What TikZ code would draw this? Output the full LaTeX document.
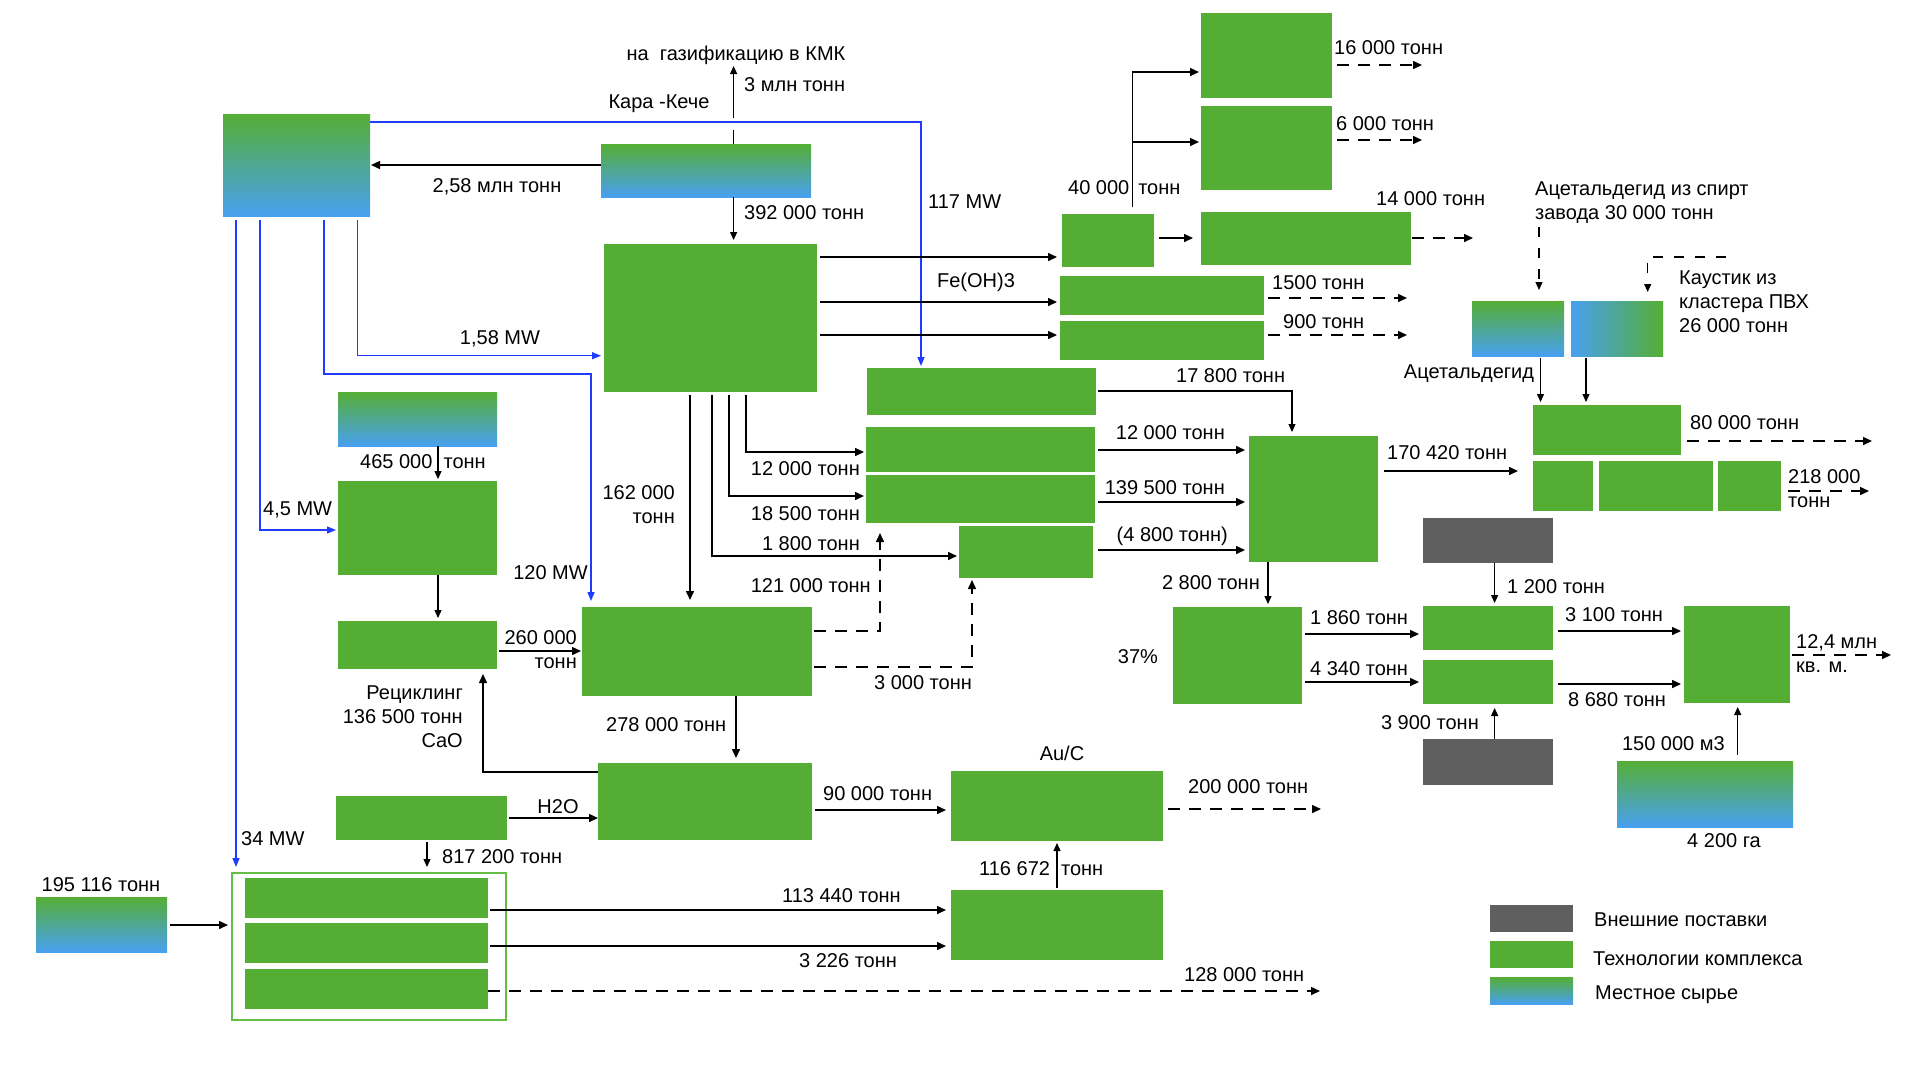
\documentclass[tikz,border=0pt]{standalone}
\usepackage{fontspec}
\setmainfont{Liberation Sans}
\usetikzlibrary{arrows.meta}
\definecolor{tg}{RGB}{85,174,52}
\definecolor{gb}{RGB}{72,160,240}
\definecolor{dg}{RGB}{95,95,95}
\definecolor{bl}{RGB}{30,60,255}
\definecolor{lg}{RGB}{100,190,70}
\newcommand\mybox[6][tbox]{\node[#1, anchor=north west, minimum width={#5-#3}, minimum height={#6-#4}] (#2) at (#3,#4) {};}
\begin{document}
\begin{tikzpicture}[x=1pt,y=-1pt,
  tbox/.style={fill=tg, draw=none, inner sep=0pt, outer sep=0pt},
  gbox/.style={top color=tg, bottom color=gb, draw=none, inner sep=0pt, outer sep=0pt},
  cbox/.style={left color=gb, right color=tg, draw=none, inner sep=0pt, outer sep=0pt},
  dbox/.style={fill=dg, draw=none, inner sep=0pt, outer sep=0pt},
  cont/.style={draw=lg, line width=2pt, fill=none, inner sep=0pt, outer sep=0pt},
  lab/.style={font=\fontsize{20}{24}\selectfont, inner sep=0pt, text height=14.5pt, text depth=0pt},
  mlab/.style={font=\fontsize{20}{24}\selectfont, inner sep=0pt},
  arr/.style={line width=1.5pt, -{Triangle[length=9pt,width=8pt]}},
  tarr/.style={line width=1.2pt, -{Triangle[length=8pt,width=7pt]}},
  tline/.style={line width=1.2pt},
  barr/.style={draw=bl, line width=1.4pt, -{Triangle[length=9pt,width=7pt]}},
  darr/.style={line width=1.5pt, dash pattern=on 12pt off 9pt, -{Triangle[length=9pt,width=8pt]}},
  dtarr/.style={line width=1.3pt, dash pattern=on 10pt off 11pt, -{Triangle[length=8pt,width=7pt]}},
]
\fill[white] (0,0) rectangle (1920,1080);
\useasboundingbox (0,0) rectangle (1920,1080);

% ---------- boxes ----------
\mybox[gbox]{src1}{223}{114}{370}{216}
\mybox[gbox]{kk}{601}{144}{811}{197}
\mybox{big1}{604}{244}{817}{392}
\mybox{A}{1201}{13}{1332}{98}
\mybox{B}{1201}{106}{1332}{190}
\mybox{C}{1062}{214}{1154}{267}
\mybox{D}{1201}{212}{1411}{265}
\mybox{E}{1060}{276}{1264}{315}
\mybox{F}{1060}{321}{1264}{360}
\mybox{G}{867}{368}{1096}{415}
\mybox{H1}{866}{427}{1095}{472}
\mybox{H2}{866}{475}{1095}{523}
\mybox{H3}{959}{526}{1093}{578}
\mybox[gbox]{acet}{1472}{301}{1564}{356}
\mybox[cbox]{caus}{1571}{301}{1663}{356}
\mybox{J}{1533}{405}{1681}{455}
\mybox{K1}{1533}{461}{1593}{511}
\mybox{K2}{1599}{461}{1713}{511}
\mybox{K3}{1718}{461}{1781}{511}
\mybox{I}{1249}{436}{1378}{562}
\mybox[dbox]{dk1}{1423}{518}{1553}{563}
\mybox{L}{1173}{607}{1302}{704}
\mybox{M1}{1423}{606}{1553}{650}
\mybox{M2}{1423}{660}{1553}{704}
\mybox[dbox]{dk2}{1423}{739}{1553}{785}
\mybox{N}{1684}{606}{1790}{703}
\mybox[gbox]{land}{1617}{761}{1793}{827}
\mybox[gbox]{lime}{338}{392}{497}{446}
\mybox{kiln}{338}{481}{497}{575}
\mybox{cao}{338}{621}{497}{669}
\mybox{big2}{582}{607}{812}{696}
\mybox{big3}{598}{763}{812}{840}
\mybox{hto}{336}{796}{507}{840}
\mybox{auc}{951}{771}{1163}{841}
\mybox{P}{951}{890}{1163}{960}
\mybox[cont]{cont}{232}{873}{506}{1020}
\mybox{in1}{245}{878}{488}{918}
\mybox{in2}{245}{923}{488}{963}
\mybox{in3}{245}{969}{488}{1009}
\mybox[gbox]{s195}{36}{897}{167}{952}
\mybox[dbox]{lgd}{1490}{905}{1573}{932}
\mybox{lgt}{1490}{941}{1573}{968}
\mybox[gbox]{lgg}{1490}{977}{1573}{1004}

% ---------- free ends and bends ----------
\coordinate (gA) at (733.6,130);
\coordinate (gB) at (733.6,118);
\coordinate (gas) at (733.6,66);
\coordinate (b120) at (591,374);
\coordinate (jA) at (1132.7,72);
\coordinate (jB) at (1132.7,142);
\coordinate (oA) at (1422,65);
\coordinate (oB) at (1422,140);
\coordinate (oD) at (1473,238);
\coordinate (oE) at (1407,298);
\coordinate (oF) at (1407,335);
\coordinate (oJ) at (1872,441);
\coordinate (oK) at (1869,491);
\coordinate (oN) at (1891,655);
\coordinate (oAu) at (1321,809);
\coordinate (o128) at (1320,991);
\coordinate (oAc) at (1539,227);
\coordinate (oCa) at (1725.5,257);

% ---------- blue energy lines ----------
\draw[barr, shorten >=2pt] (src1.east |- 0,122) -| (G.north -| 921,0);
\draw[barr, shorten <=4pt, shorten >=3pt] (src1.south -| 357.6,0) |- (big1.west |- 0,355.7);
\draw[barr, shorten <=4pt, shorten >=6pt] (src1.south -| 324,0) |- (b120) -- (big2.north -| b120);
\draw[barr, shorten <=4pt, shorten >=2pt] (src1.south -| 260,0) |- (kiln.west |- 0,530);
\draw[barr, shorten <=4pt, shorten >=6pt] (src1.south -| 236,0) -- (cont.north -| 236,0);

% ---------- black flows ----------
\draw[arr, shorten >=1pt] (kk.west |- 0,165) -- (src1.east |- 0,165);
\draw[tline] (kk.north -| gA) -- (gA);
\draw[tarr] (gB) -- (gas);
\draw[tarr, shorten >=4pt] (kk.south -| gA) -- (big1.north -| gA);

\draw[arr, shorten <=3pt, shorten >=5pt] (big1.east |- 0,257) -- (C.west |- 0,257);
\draw[arr, shorten <=3pt, shorten >=3pt] (big1.east |- 0,302) -- (E.west |- 0,302);
\draw[arr, shorten <=3pt, shorten >=3pt] (big1.east |- 0,335) -- (F.west |- 0,335);
\draw[arr, shorten <=7pt, shorten >=2pt] (C.north -| jA) -- (jA) -- (A.west |- jA);
\draw[arr, shorten >=2pt] (jB) -- (B.west |- jB);
\draw[arr, shorten <=5pt, shorten >=8pt] (C.east |- 0,238) -- (D.west |- 0,238);

\draw[darr, shorten <=5pt] (A.east |- oA) -- (oA);
\draw[darr, shorten <=5pt] (B.east |- oB) -- (oB);
\draw[darr, shorten <=1pt] (D.east |- oD) -- (oD);
\draw[darr, shorten <=4pt] (E.east |- oE) -- (oE);
\draw[darr, shorten <=4pt] (F.east |- oF) -- (oF);

\draw[tarr, shorten <=2pt, shorten >=4pt] (G.east |- 0,391) -| (I.north -| 1292,0);
\draw[arr, shorten <=3pt, shorten >=4pt] (H1.east |- 0,450) -- (I.west |- 0,450);
\draw[arr, shorten <=3pt, shorten >=4pt] (H2.east |- 0,502) -- (I.west |- 0,502);
\draw[arr, shorten <=5pt, shorten >=4pt] (H3.east |- 0,550) -- (I.west |- 0,550);

\draw[arr, shorten <=3pt, shorten >=7pt] (big1.south -| 690,0) -- (big2.north -| 690,0);
\draw[arr, shorten <=3pt, shorten >=2pt] (big1.south -| 746,0) |- (H1.west |- 0,452);
\draw[arr, shorten <=3pt, shorten >=2pt] (big1.south -| 729,0) |- (H2.west |- 0,496);
\draw[arr, shorten <=3pt, shorten >=2pt] (big1.south -| 712,0) |- (H3.west |- 0,556);
\draw[darr, shorten <=2pt, shorten >=10pt] (big2.east |- 0,631) -| (H2.south -| 880,0);
\draw[darr, shorten <=2pt, shorten >=2pt] (big2.east |- 0,667) -| (H3.south -| 972,0);

\draw[tarr, shorten >=2pt] (lime.south -| 438,0) -- (kiln.north -| 438,0);
\draw[tarr, shorten >=3pt] (kiln.south -| 438,0) -- (cao.north -| 438,0);
\draw[arr, shorten <=2pt, shorten >=1pt] (cao.east |- 0,651) -- (big2.west |- 0,651);
\draw[arr, shorten >=5pt] (big3.west |- 0,772) -| (cao.south -| 483,0);
\draw[arr, shorten >=5pt] (big2.south -| 736,0) -- (big3.north -| 736,0);
\draw[arr, shorten <=2pt] (hto.east |- 0,818) -- (big3.west |- 0,818);
\draw[tarr, shorten <=2pt, shorten >=6pt] (hto.south -| 427,0) -- (cont.north -| 427,0);
\draw[arr, shorten <=3pt, shorten >=5pt] (big3.east |- 0,810) -- (auc.west |- 0,810);
\draw[darr, shorten <=5pt] (auc.east |- oAu) -- (oAu);
\draw[tarr, shorten <=2pt, shorten >=2pt] (P.north -| 1057,0) -- (auc.south -| 1057,0);
\draw[arr, shorten <=2pt, shorten >=5pt] (in1.east |- 0,910) -- (P.west |- 0,910);
\draw[arr, shorten <=2pt, shorten >=5pt] (in2.east |- 0,946) -- (P.west |- 0,946);
\draw[darr] (in3.east |- o128) -- (o128);
\draw[arr, shorten <=3pt, shorten >=4pt] (s195.east |- 0,925) -- (cont.west |- 0,925);

\draw[arr, shorten <=6pt, shorten >=15pt] (I.east |- 0,471) -- (K1.west |- 0,471);
\draw[tarr, shorten <=2pt, shorten >=3pt] (acet.south -| 1540.5,0) -- (J.north -| 1540.5,0);
\draw[tarr, shorten <=2pt, shorten >=3pt] (caus.south -| 1586,0) -- (J.north -| 1586,0);
\draw[dtarr, shorten >=11pt] (oAc) -- (acet.north -| oAc);
\draw[dtarr, shorten >=9pt] (oCa) -| (caus.north -| 1647.7,0);
\draw[darr, shorten <=6pt] (J.east |- oJ) -- (oJ);
\draw[darr, shorten <=7pt] (K3.east |- oK) -- (oK);
\draw[tarr, shorten >=3pt] (I.south -| 1268,0) -- (L.north -| 1268,0);
\draw[arr, shorten <=3pt, shorten >=4pt] (L.east |- 0,634) -- (M1.west |- 0,634);
\draw[arr, shorten <=3pt, shorten >=4pt] (L.east |- 0,682) -- (M2.west |- 0,682);
\draw[tarr, shorten >=3pt] (dk1.south -| 1494.6,0) -- (M1.north -| 1494.6,0);
\draw[tarr, shorten >=4pt] (dk2.north -| 1494.6,0) -- (M2.south -| 1494.6,0);
\draw[arr, shorten <=5pt, shorten >=3pt] (M1.east |- 0,631) -- (N.west |- 0,631);
\draw[arr, shorten <=5pt, shorten >=3pt] (M2.east |- 0,684) -- (N.west |- 0,684);
\draw[tarr, shorten <=6pt, shorten >=4pt] (land.north -| 1737.7,0) -- (N.south -| 1737.7,0);
\draw[darr, shorten <=2pt] (N.east |- oN) -- (oN);

% ---------- labels ----------
\node[lab] (t1) at (736,53) {на\ \ газификацию в КМК};
\node[lab, anchor=west] (t2) at (744,84) {3 млн тонн};
\node[lab] (t3) at (659,101) {Кара -Кече};
\node[lab] (t4) at (497,185) {2,58 млн тонн};
\node[lab, anchor=west] (t5) at (744,212) {392 000 тонн};
\node[lab, anchor=west] (t6) at (928,201) {117 MW};
\node[lab] (t7) at (500,337) {1,58 MW};
\node[lab, anchor=west] (t8) at (1068,187) {40 000\ \,тонн};
\node[lab, anchor=west] (t9) at (1334,47) {16 000 тонн};
\node[lab, anchor=west] (t10) at (1336,123) {6 000 тонн};
\node[lab, anchor=west] (t11) at (1376,198) {14 000 тонн};
\node[mlab, anchor=west, align=left] (t12) at (1535,202.5) {Ацетальдегид из спирт\\завода 30 000 тонн};
\node[mlab, anchor=west, align=left] (t13) at (1679,302) {Каустик из\\кластера ПВХ\\26 000 тонн};
\node[lab] (t14) at (1469,371) {Ацетальдегид};
\node[lab, anchor=west] (t15) at (1272,282) {1500 тонн};
\node[lab, anchor=west] (t16) at (1283,321) {900 тонн};
\node[lab] (t17) at (976,280) {Fe(OH)3};
\node[lab, anchor=west] (t18) at (1176,375) {17 800 тонн};
\node[lab, anchor=east] (t19) at (860,468) {12 000 тонн};
\node[lab, anchor=east] (t20) at (860,513) {18 500 тонн};
\node[lab, anchor=east] (t21) at (860,543) {1 800 тонн};
\node[mlab, anchor=east, align=right] (t22) at (675,505) {162 000\\тонн};
\node[lab, anchor=east] (t23) at (871,585) {121 000 тонн};
\node[lab] (t24) at (923,682) {3 000 тонн};
\node[lab, anchor=east] (t25) at (1225,432) {12 000 тонн};
\node[lab, anchor=east] (t26) at (1225,487) {139 500 тонн};
\node[lab, anchor=east] (t27) at (1228,534) {(4 800 тонн)};
\node[lab, anchor=west] (t28) at (1387,452) {170 420 тонн};
\node[lab, anchor=west] (t29) at (1690,422) {80 000 тонн};
\node[mlab, anchor=west, align=left] (t30) at (1788,489) {218 000\\тонн};
\node[lab, anchor=west] (t31) at (1507,586) {1 200 тонн};
\node[lab, anchor=east] (t32) at (1260,582) {2 800 тонн};
\node[lab] (t33) at (1138,656) {37\%};
\node[lab, anchor=west] (t34) at (1310,617) {1 860 тонн};
\node[lab, anchor=west] (t35) at (1310,668) {4 340 тонн};
\node[lab, anchor=west] (t36) at (1565,614) {3 100 тонн};
\node[lab, anchor=west] (t37) at (1568,699) {8 680 тонн};
\node[lab, anchor=east] (t38) at (1479,722) {3 900 тонн};
\node[mlab, anchor=west, align=left] (t39) at (1796,654) {12,4 млн\\кв. м.};
\node[lab, anchor=east] (t40) at (1725,743) {150 000 м3};
\node[lab] (t41) at (1724,840) {4 200 га};
\node[lab, anchor=west] (t42) at (360,461) {465 000\ \ тонн};
\node[lab, anchor=west] (t43) at (263,508) {4,5 MW};
\node[lab, anchor=east] (t44) at (588,572) {120 MW};
\node[mlab, anchor=east, align=right] (t45) at (577,650) {260 000\\тонн};
\node[mlab, anchor=east, align=right] (t46) at (463,717) {Рециклинг\\136 500 тонн\\CaO};
\node[lab, anchor=west] (t47) at (606,724) {278 000 тонн};
\node[lab] (t48) at (558,806) {H2O};
\node[lab, anchor=west] (t49) at (823,793) {90 000 тонн};
\node[lab] (t50) at (1062,753) {Au/C};
\node[lab, anchor=west] (t51) at (1188,786) {200 000 тонн};
\node[lab, anchor=west] (t52) at (241,838) {34 MW};
\node[lab, anchor=west] (t53) at (442,856) {817 200 тонн};
\node[lab, anchor=west] (t54) at (979,868) {116 672\ \ тонн};
\node[lab, anchor=west] (t55) at (782,895) {113 440 тонн};
\node[lab, anchor=west] (t56) at (799,960) {3 226 тонн};
\node[lab, anchor=west] (t57) at (1184,974) {128 000 тонн};
\node[lab] (t58) at (101,884) {195 116 тонн};
\node[lab, anchor=west] (t59) at (1594,919) {Внешние поставки};
\node[lab, anchor=west] (t60) at (1593,958) {Технологии комплекса};
\node[lab, anchor=west] (t61) at (1595,992) {Местное сырье};
\end{tikzpicture}
\end{document}
